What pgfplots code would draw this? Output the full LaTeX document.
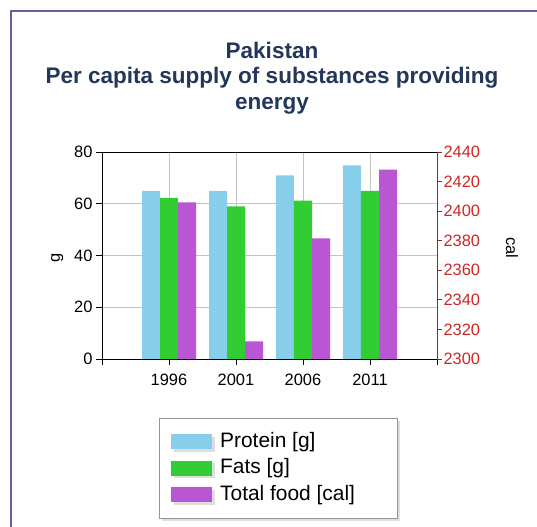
\documentclass[border=0pt]{standalone}
\usepackage{pgfplots}
\pgfplotsset{compat=1.18}
\usepackage{fontspec}
\setmainfont{Liberation Sans}
\usetikzlibrary{shadows}
\definecolor{protein}{RGB}{135,206,235}
\definecolor{fats}{RGB}{50,205,50}
\definecolor{total}{RGB}{186,85,211}
\definecolor{titlecol}{RGB}{35,55,90}
\definecolor{framec}{RGB}{110,90,160}
\definecolor{calred}{RGB}{205,40,40}
\definecolor{calaxis}{RGB}{140,40,40}
\definecolor{gridc}{RGB}{195,195,195}
\definecolor{legdraw}{RGB}{150,150,150}

\begin{document}
\begin{tikzpicture}
\useasboundingbox (0bp,0bp) rectangle (537bp,527bp);
\fill[white] (0bp,0bp) rectangle (537bp,527bp);
\draw[framec, line width=2.5bp] (11bp,0bp) -- (11bp,516bp) -- (537bp,516bp);
\node[titlecol, align=center, font=\fontsize{22.6}{25.5}\selectfont\bfseries] at (272bp,449bp) {Pakistan\\Per capita supply of substances providing\\energy};

\begin{axis}[
  at={(102bp,168bp)}, anchor=south west, scale only axis,
  width=335bp, height=207bp,
  xmin=-1, xmax=4, ymin=0, ymax=80,
  xtick={-1,0,1,2,3,4}, xticklabels={,1996,2001,2006,2011,},
  ytick={0,20,40,60,80},
  tick pos=left, tick align=outside, major tick length=6bp,
  grid=major, grid style={gridc, line width=0.8bp},
  axis line style={black, line width=0.9bp},
  tick style={black, line width=0.9bp},
  ticklabel style={font=\fontsize{16.5}{19}\selectfont},
  xticklabel style={yshift=-6bp},
  /pgf/number format/assume math mode=true,
  ylabel={g},
  ylabel style={at={(axis description cs:-0.134,0.49)}, anchor=center, font=\fontsize{16.5}{19}\selectfont},
]
\addplot[ybar, bar width=18bp, bar shift=-18bp, fill=protein, draw=none] coordinates {(0,65.0) (1,65.0) (2,71.0) (3,74.8)};
\addplot[ybar, bar width=18bp, bar shift=0bp, fill=fats, draw=none] coordinates {(0,62.3) (1,59.0) (2,61.2) (3,65.0)};
\end{axis}

\begin{axis}[
  at={(102bp,168bp)}, anchor=south west, scale only axis,
  width=335bp, height=207bp,
  xmin=-1, xmax=4, ymin=2300, ymax=2440,
  axis x line=none, axis y line*=right,
  ytick={2300,2320,2340,2360,2380,2400,2420,2440},
  tick align=outside, major tick length=5bp,
  y axis line style={calaxis, line width=0.9bp},
  ytick style={calaxis, line width=0.9bp},
  yticklabel style={calred, font=\fontsize{16.5}{19}\selectfont, xshift=-2bp, /pgf/number format/set thousands separator={}},
  /pgf/number format/assume math mode=true,
  ylabel={cal},
  ylabel style={at={(axis description cs:1.224,0.536)}, anchor=center, rotate=180, font=\fontsize{16.5}{19}\selectfont},
  legend image code/.code={\fill[#1] (0bp,-7.5bp) rectangle (41bp,7.5bp); \path (47bp,0bp);},
  legend cell align=left,
  legend style={at={(axis description cs:0.170,-0.285)}, anchor=north west,
    draw=legdraw, fill=white, font=\fontsize{21}{24}\selectfont,
    inner xsep=12bp, inner ysep=12bp, row sep=3.5bp,
    nodes={inner sep=2bp, text height=15bp, text depth=4bp},
    drop shadow={shadow xshift=2.5bp, shadow yshift=-2.5bp, fill=gray!50}},
]
\addlegendimage{fill=protein, draw=none}
\addlegendentry{\makebox[163bp][l]{Protein [g]}}
\addlegendimage{fill=fats, draw=none}
\addlegendentry{\makebox[163bp][l]{Fats [g]}}
\addlegendimage{fill=total, draw=none}
\addlegendentry{\makebox[163bp][l]{Total food [cal]}}
\addplot[ybar, bar width=18bp, bar shift=18bp, fill=total, draw=none, forget plot] coordinates {(0,2406) (1,2312) (2,2381.5) (3,2428)};
\end{axis}
\end{tikzpicture}
\end{document}
